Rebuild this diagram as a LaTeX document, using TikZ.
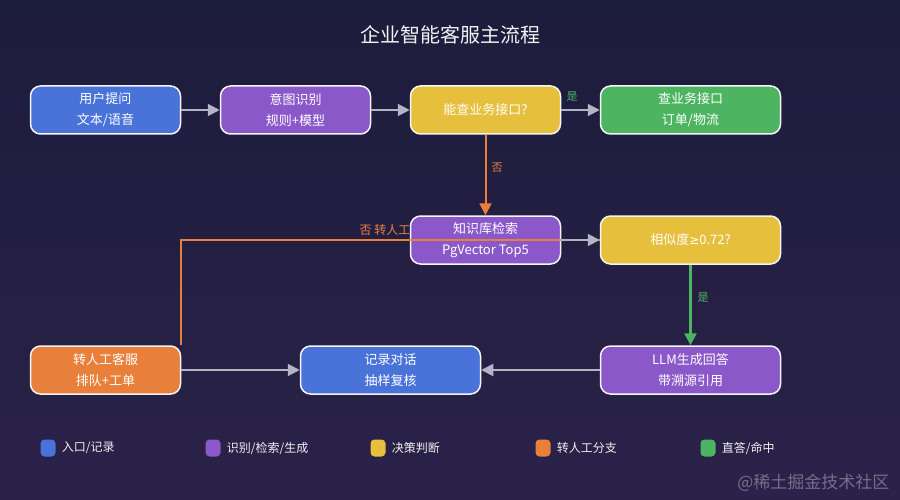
\documentclass[tikz,border=0pt]{standalone}
\usepackage{fontspec}
\setmainfont{Noto Sans CJK SC}
\newfontfamily\symfont{DejaVu Sans}
\usetikzlibrary{arrows.meta}

\definecolor{bgtop}{HTML}{1C1C3C}
\definecolor{bgbot}{HTML}{2B2249}
\definecolor{cblue}{HTML}{4A73D9}
\definecolor{cpurple}{HTML}{8A58C8}
\definecolor{cyellow}{HTML}{E6BF3C}
\definecolor{corange}{HTML}{E8803C}
\definecolor{cgreen}{HTML}{4DB462}
\definecolor{cgray}{HTML}{B4B4C4}

\tikzset{
  box/.style={draw=white!92!gray, line width=1.5pt, rounded corners=10pt,
    minimum width=150pt, minimum height=48pt, inner sep=0pt,
    text=white, align=center, font=\fontsize{13}{21}\selectfont},
  wide/.style={minimum width=180pt},
  flow/.style={cgray, line width=2pt, -{Triangle[length=12pt,width=12pt]}},
  noflow/.style={corange, line width=2pt, -{Triangle[length=12pt,width=12pt]}},
  yesflow/.style={cgreen, line width=2.5pt, -{Triangle[length=12pt,width=12pt]}},
  lab/.style={font=\fontsize{11}{13}\selectfont, inner sep=0pt},
  swatch/.style={rounded corners=4pt, minimum width=15pt, minimum height=17pt, inner sep=0pt},
  legtext/.style={anchor=west, text=white!88!gray, font=\fontsize{12}{14}\selectfont, inner sep=0pt}
}

\begin{document}
\begin{tikzpicture}[x=1pt,y=-1pt]
\useasboundingbox (0,0) rectangle (900,500);
\shade[top color=bgtop, bottom color=bgbot] (0,0) rectangle (900,500);

\node[text=white!90!gray, font=\fontsize{20}{24}\selectfont] (title) at (450,35) {企业智能客服主流程};

% boxes
\node[box, fill=cblue] (user) at (105.5,110) {用户提问\\文本/语音};
\node[box, fill=cpurple] (intent) at (295.5,110) {意图识别\\规则+模型};
\node[box, fill=cyellow] (ask) at (485.5,110) {能查业务接口?};
\node[box, wide, fill=cgreen] (biz) at (690.5,110) {查业务接口\\订单/物流};
\node[box, fill=cpurple] (kb) at (485.5,240) {知识库检索\\PgVector Top5};
\node[box, wide, fill=cyellow] (sim) at (690.5,240) {相似度{\symfont\fontsize{12}{14}\selectfont ≥}0.72?};
\node[box, fill=corange] (human) at (105.5,370) {转人工客服\\排队+工单};
\node[box, wide, fill=cblue] (log) at (390.5,370) {记录对话\\抽样复核};
\node[box, wide, fill=cpurple] (llm) at (690.5,370) {LLM生成回答\\带溯源引用};

% connectors
\draw[flow] (user) -- (intent);
\draw[flow] (intent) -- (ask);
\draw[flow] (ask) -- (biz);
\node[lab, text=cgreen] (yes1) at (572,97) {是};
\draw[noflow] (ask) -- (kb);
\node[lab, text=corange] (no1) at (497,168) {否};
\draw[corange, line width=2pt] (sim.west) -| (human.north east);
\node[lab, text=corange, font=\fontsize{12}{14}\selectfont] (no2) at (385,230) {否 转人工};
\draw[flow] (kb) -- (sim);
\draw[yesflow] (sim) -- (llm);
\node[lab, text=cgreen] (yes2) at (703,298) {是};
\draw[flow] (llm) -- (log);
\draw[flow] (human) -- (log);

% legend
\node[swatch, fill=cblue] (lg1) at (48,448) {};
\node[legtext] (lt1) at ([xshift=6pt]lg1.east) {入口/记录};
\node[swatch, fill=cpurple] (lg2) at (213,448) {};
\node[legtext] (lt2) at ([xshift=6pt]lg2.east) {识别/检索/生成};
\node[swatch, fill=cyellow] (lg3) at (378,448) {};
\node[legtext] (lt3) at ([xshift=6pt]lg3.east) {决策判断};
\node[swatch, fill=corange] (lg4) at (543,448) {};
\node[legtext] (lt4) at ([xshift=6pt]lg4.east) {转人工分支};
\node[swatch, fill=cgreen] (lg5) at (708,448) {};
\node[legtext] (lt5) at ([xshift=6pt]lg5.east) {直答/命中};

\node[anchor=east, text=white, opacity=0.35, font=\fontsize{17}{20}\selectfont] (mark) at (893,483) {@稀土掘金技术社区};
\end{tikzpicture}
\end{document}
